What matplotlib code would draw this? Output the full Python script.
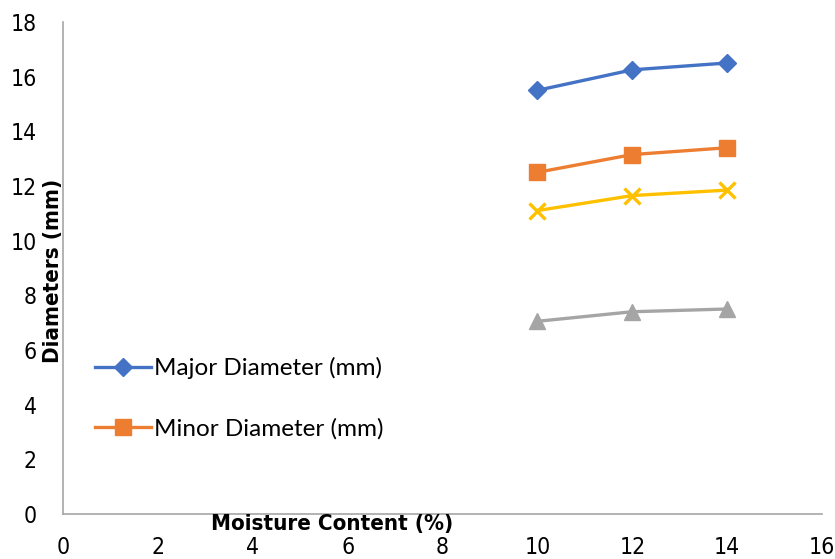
import matplotlib
matplotlib.use("Agg")
import matplotlib.pyplot as plt

# Donnees
moisture = [10, 12, 14]
major_diam = [15.5, 16.25, 16.5]
minor_diam = [12.5, 13.15, 13.4]
third_diam = [11.1, 11.65, 11.85]
fourth_diam = [7.05, 7.4, 7.5]

x_ticks = [0, 2, 4, 6, 8, 10, 12, 14, 16]
y_ticks = [0, 2, 4, 6, 8, 10, 12, 14, 16, 18]

plt.rcParams['font.family'] = ['Lato', 'DejaVu Sans']

fig = plt.figure(figsize=(8.35, 5.59), dpi=100)
ax = fig.add_axes([63 / 835, 1 - 514 / 559, (822 - 63) / 835, (514 - 22) / 559])

l1, = ax.plot(moisture, major_diam, color='#4472C4', marker='D', markersize=9, lw=2.4,
              label='Major Diameter (mm)')
l2, = ax.plot(moisture, minor_diam, color='#ED7D31', marker='s', markersize=11, lw=2.4,
              label='Minor Diameter (mm)')
ax.plot(moisture, third_diam, color='#FFC000', marker='x', markersize=11, mew=2.4, lw=2.4)
ax.plot(moisture, fourth_diam, color='#A5A5A5', marker='^', markersize=11, lw=2.4)

ax.set_xlim(0, 16)
ax.set_ylim(0, 18)
ax.set_xticks(x_ticks)
ax.set_yticks(y_ticks)
ax.tick_params(length=0, colors='black')
ax.tick_params(axis='x', pad=16)
ax.tick_params(axis='y', pad=19)
for lab in ax.get_xticklabels() + ax.get_yticklabels():
    lab.set_family(['DejaVu Sans'])
    lab.set_fontstretch('condensed')
    lab.set_fontsize(16.5)

for s in ['top', 'right']:
    ax.spines[s].set_visible(False)
for s in ['left', 'bottom']:
    ax.spines[s].set_color('#A6A6A6')
    ax.spines[s].set_linewidth(1.2)

fig.text(332 / 835, 1 - 524 / 559, 'Moisture Content (%)', ha='center', va='center',
         fontsize=16, fontweight='bold', fontstretch='condensed', family=['DejaVu Sans'])
fig.text(53 / 835, 1 - 271 / 559, 'Diameters (mm)', ha='center', va='center', rotation=90,
         fontsize=16, fontweight='bold', fontstretch='condensed', family=['DejaVu Sans'])

fig.legend(handles=[l1, l2], loc='upper left', bbox_to_anchor=(95 / 835, 1 - 357 / 559),
           frameon=False, fontsize=17.5, labelspacing=1.6, handlelength=2.3, handletextpad=0.12,
           borderpad=0, borderaxespad=0)

fig.savefig('out.png', dpi=100)
